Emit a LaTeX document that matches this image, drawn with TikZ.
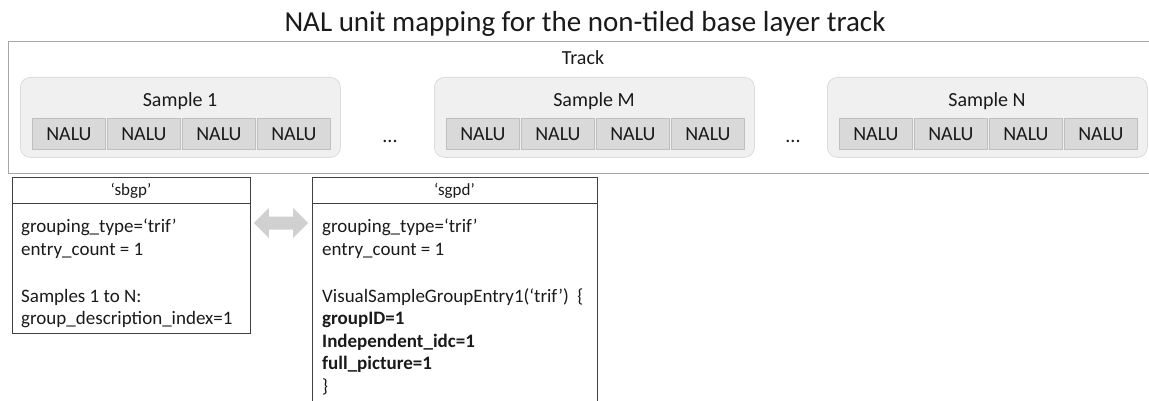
\documentclass[tikz,border=0pt]{standalone}
\usepackage{fontspec}
\setmainfont{Carlito}
\definecolor{trackline}{HTML}{A6A6A6}
\definecolor{samplefill}{HTML}{F0F0F0}
\definecolor{sampleline}{HTML}{DCDCDC}
\definecolor{nalufill}{HTML}{D9D9D9}
\definecolor{naluline}{HTML}{BFBFBF}
\definecolor{boxline}{HTML}{404040}
\definecolor{arrowgray}{HTML}{D0D0D0}
\definecolor{textcol}{HTML}{1A1A1A}
\begin{document}
\begin{tikzpicture}[x=1pt,y=-1pt,
  every node/.style={text=textcol},
  trackbox/.style={draw=trackline, line width=1pt, anchor=north west, inner sep=0pt,
    minimum width=1160pt, minimum height=132pt},
  samplebox/.style={draw=sampleline, fill=samplefill, line width=0.8pt, rounded corners=10pt,
    anchor=north west, inner sep=0pt, minimum width=320pt, minimum height=80pt},
  nalu/.style={draw=naluline, fill=nalufill, line width=0.8pt, anchor=north west, inner sep=0pt,
    minimum width=73pt, minimum height=31pt, font=\fontsize{20}{24}\selectfont},
  lbl/.style={anchor=base, inner sep=0pt, font=\fontsize{20}{24}\selectfont},
  infobox/.style={draw=boxline, line width=0.9pt, anchor=north west, inner sep=0pt},
  hdr/.style={anchor=base, inner sep=0pt, font=\fontsize{17}{20}\selectfont},
  body/.style={anchor=base west, inner sep=0pt, font=\fontsize{19}{22}\selectfont},
  boldbody/.style={body, font=\fontsize{19}{22}\selectfont\bfseries}]
\useasboundingbox (0,0) rectangle (1149,401);

% title
\node[anchor=base, inner sep=0pt, font=\fontsize{29}{34}\selectfont] (title) at (585,32)
  {NAL unit mapping for the non-tiled base layer track};

% track with its samples
\node[trackbox] (track) at (8,41) {};
\node[lbl] (tracklbl) at (583,65) {Track};

\node[samplebox] (s1) at (20,77) {};
\node[lbl] (s1lbl) at (180,107) {Sample 1};
\foreach \k in {0,...,3} \node[nalu] (s1n\k) at (32+75*\k,118) {NALU};

\node[lbl] (dots1) at (390,143) {...};

\node[samplebox] (sM) at (434,77) {};
\node[lbl] (sMlbl) at (594,107) {Sample M};
\foreach \k in {0,...,3} \node[nalu] (sMn\k) at (446+75*\k,118) {NALU};

\node[lbl] (dots2) at (793,143) {...};

\node[samplebox] (sN) at (827,77) {};
\node[lbl] (sNlbl) at (987,107) {Sample N};
\foreach \k in {0,...,3} \node[nalu] (sNn\k) at (839+75*\k,118) {NALU};

% sample-to-group box
\node[infobox, minimum width=238pt, minimum height=156pt] (sbgp) at (12,177) {};
\draw[boxline, line width=0.9pt] (sbgp.west |- 0,203) -- (sbgp.east |- 0,203);
\node[hdr] (sbgphdr) at (131,195) {‘sbgp’};
\node[body] (sb1) at (21,233) {grouping\_type=‘trif’};
\node[body] (sb2) at (21,255.5) {entry\_count = 1};
\node[body] (sb3) at (21,302) {Samples 1 to N:};
\node[body] (sb4) at (21,324.5) {group\_description\_index=1};

% sample group description box
\node[infobox, minimum width=285pt, minimum height=240pt] (sgpd) at (312,177) {};
\draw[boxline, line width=0.9pt] (sgpd.west |- 0,203) -- (sgpd.east |- 0,203);
\node[hdr] (sgpdhdr) at (454.5,195) {‘sgpd’};
\node[body] (sg1) at (322,233) {grouping\_type=‘trif’};
\node[body] (sg2) at (322,255.5) {entry\_count = 1};
\node[body] (sg3) at (322,302) {VisualSampleGroupEntry1(‘trif’)\ \ \{};
\node[boldbody] (sg4) at (322,324.5) {groupID=1};
\node[boldbody] (sg5) at (322,347) {Independent\_idc=1};
\node[boldbody] (sg6) at (322,369.5) {full\_picture=1};
\node[body] (sg7) at (322,392) {\}};

% double arrow linking the two boxes
\coordinate (arrL) at ([xshift=3pt,yshift=-46pt]sbgp.north east);
\coordinate (arrR) at ([xshift=-4pt,yshift=-46pt]sgpd.north west);
\fill[arrowgray] (arrL) -- ++(15,-15) -- ++(0,8.5) -- ([xshift=-15pt,yshift=6.5pt]arrR)
  -- ++(0,-8.5) -- (arrR) -- ++(-15,15) -- ++(0,-8.5) -- ([xshift=15pt,yshift=-6.5pt]arrL)
  -- ++(0,8.5) -- cycle;
\end{tikzpicture}
\end{document}
